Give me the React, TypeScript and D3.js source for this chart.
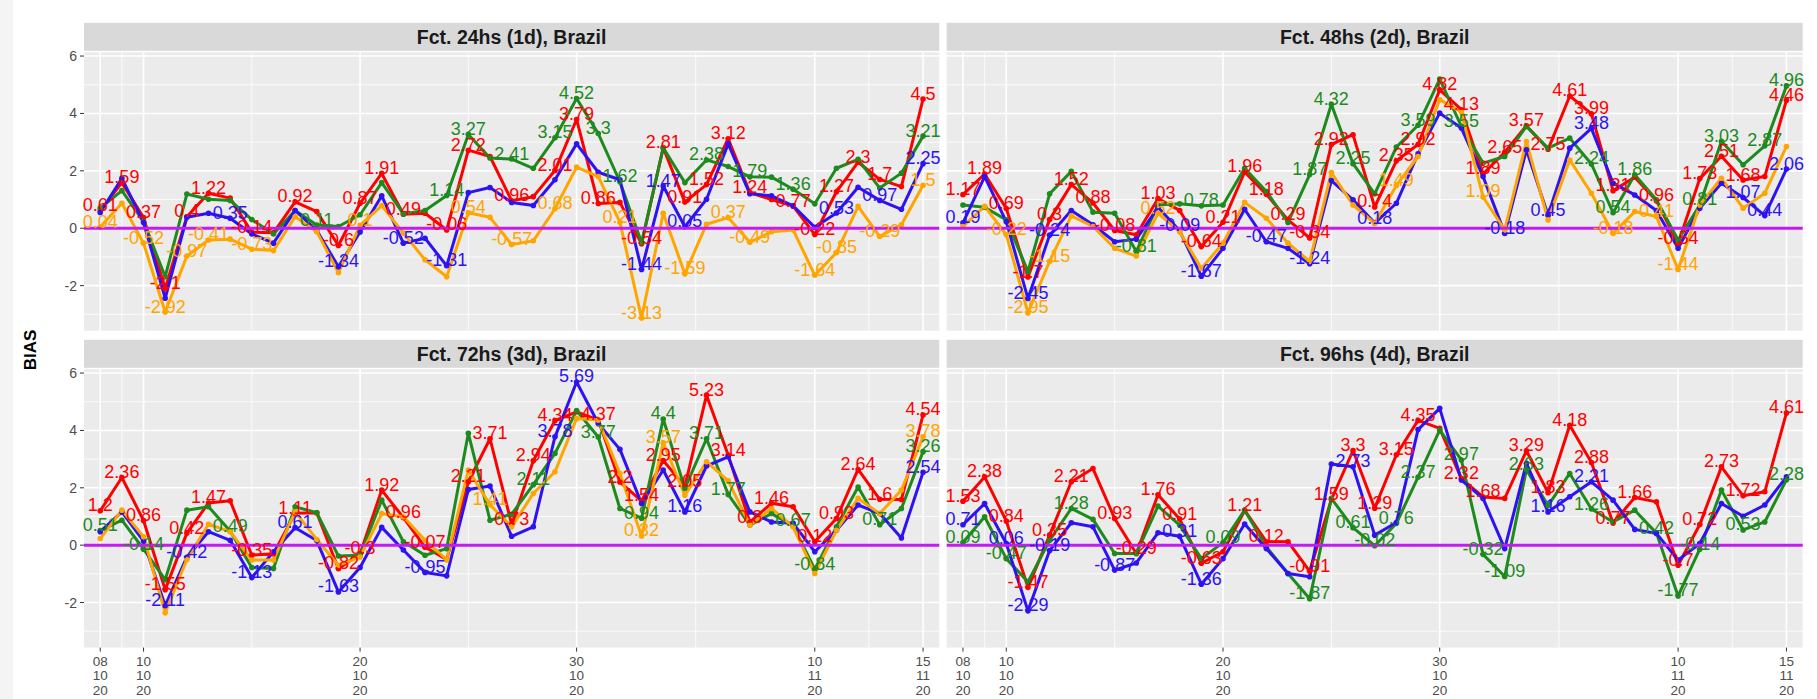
import React from "react";
import * as d3 from "d3";

// ---------- DATA ----------
const START = new Date(Date.UTC(2020, 9, 8));
const END = new Date(Date.UTC(2020, 10, 16));
const DAYS: Date[] = d3.utcDay.range(START, END); // 08/10/20 .. 15/11/20

const TITLES = [
  "Fct. 24hs (1d), Brazil",
  "Fct. 48hs (2d), Brazil",
  "Fct. 72hs (3d), Brazil",
  "Fct. 96hs (4d), Brazil",
];

const SERIES_NAMES = ["red", "green", "blue", "orange"];
const SERIES_COLORS = ["#FF0000", "#1E8A1E", "#2F12F2", "#FFA500"];

// Fct 24h
const P1_RED = [0.61, 1.59, 0.37, -2.1, 0.4, 1.22, 1.05, -0.14, -0.16, 0.92, 0.58, -0.6, 0.87, 1.91, 0.49, 0.52, -0.06, 2.72, 2.5, 0.96, 1.1, 2.01, 3.79, 0.86, 0.9, -0.54, 2.81, 0.91, 1.52, 3.12, 1.24, 1.0, 0.77, -0.22, 1.27, 2.3, 1.7, 1.45, 4.5];
const P1_GREEN = [0.7, 1.31, 0.23, -1.69, 1.19, 1.01, 0.97, 0.3, -0.2, 0.62, 0.11, 0.06, 0.47, 1.59, 0.5, 0.62, 1.14, 3.27, 2.45, 2.41, 2.09, 3.15, 4.52, 3.3, 1.62, -0.5, 2.8, 1.59, 2.38, 2.15, 1.79, 1.78, 1.36, 0.85, 2.09, 2.4, 1.4, 1.92, 3.21];
const P1_BLUE = [0.55, 1.74, 0.2, -2.44, 0.38, 0.52, 0.35, -0.2, -0.52, 0.62, -0.08, -1.34, -0.13, 1.13, -0.52, -0.35, -1.31, 1.24, 1.42, 0.9, 0.79, 1.69, 2.94, 1.95, 1.69, -1.44, 1.47, 0.05, 1.01, 2.94, 1.2, 1.13, 0.78, 0.03, 0.53, 1.43, 0.97, 0.66, 2.25];
const P1_ORANGE = [0.04, 0.87, -0.52, -2.92, -0.97, -0.41, -0.38, -0.73, -0.78, 0.4, -0.12, -1.55, 0.1, 0.79, -0.17, -1.1, -1.69, 0.54, 0.38, -0.57, -0.44, 0.68, 2.13, 1.8, 0.21, -3.13, 0.52, -1.59, 0.14, 0.37, -0.49, -0.12, -0.06, -1.64, -0.85, 0.76, -0.29, 0.12, 1.5];

// Fct 48h
const P2_RED = [1.17, 1.89, 0.69, -1.7, 0.3, 1.52, 0.88, -0.08, -0.23, 1.03, 0.62, -0.64, 0.21, 1.96, 1.18, 0.29, -0.34, 2.92, 3.26, 0.74, 2.35, 2.92, 4.82, 4.13, 1.89, 2.65, 3.57, 2.75, 4.61, 3.99, 1.31, 1.78, 0.96, -0.54, 1.73, 2.51, 1.68, 1.8, 4.46];
const P2_GREEN = [0.81, 0.73, 0.29, -1.51, 1.2, 1.98, 0.56, 0.52, -0.81, 0.81, 0.85, 0.78, 0.81, 2.09, 1.28, 0.2, 1.87, 4.32, 2.25, 1.2, 2.83, 3.59, 5.2, 3.55, 2.27, 2.5, 3.55, 2.79, 3.14, 2.24, 0.54, 1.86, 0.99, -0.41, 0.81, 3.03, 2.21, 2.87, 4.96];
const P2_BLUE = [0.19, 1.8, 0.23, -2.45, -0.24, 0.62, 0.12, -0.47, -0.38, 0.73, -0.09, -1.67, -0.7, 0.66, -0.47, -0.7, -1.24, 1.66, 0.99, 0.18, 0.87, 2.59, 4.01, 3.49, 1.8, -0.18, 2.73, 0.45, 2.79, 3.48, 1.57, 1.16, 0.62, -0.7, 0.7, 1.57, 1.07, 0.44, 2.06];
const P2_ORANGE = [0.06, 0.76, -0.22, -2.95, -1.15, 0.43, 0.06, -0.7, -0.97, 0.52, -0.12, -1.4, -0.52, 0.9, 0.35, -0.52, -1.16, 1.94, 0.81, 0.17, 1.49, 2.5, 4.48, 4.05, 1.09, -0.06, 3.02, 0.29, 2.38, 1.22, -0.18, 0.58, 0.41, -1.44, 0.81, 1.74, 0.7, 1.22, 2.85];

// Fct 72h
const P3_RED = [1.2, 2.36, 0.86, -1.55, 0.42, 1.47, 1.55, -0.35, -0.3, 1.11, 1.13, -0.82, -0.3, 1.92, 0.96, -0.07, -0.5, 2.21, 3.71, 0.73, 2.94, 4.34, 4.65, 4.37, 2.2, 1.54, 2.95, 2.05, 5.23, 3.14, 0.8, 1.46, 1.34, 0.12, 0.93, 2.64, 1.6, 1.59, 4.54];
const P3_GREEN = [0.51, 0.87, -0.14, -1.2, 1.22, 1.34, 0.49, -0.78, -0.81, 1.34, 1.13, -0.38, -0.35, 1.57, 0.12, -0.35, -0.12, 3.9, 0.87, 1.08, 2.11, 3.2, 4.69, 3.77, 1.28, 0.94, 4.4, 1.98, 3.71, 1.77, 0.7, 1.1, 0.67, -0.84, 0.64, 2.03, 0.71, 1.28, 3.26];
const P3_BLUE = [0.47, 1.16, 0.14, -2.11, -0.42, 0.47, 0.17, -1.13, -0.23, 0.61, 0.16, -1.63, -0.78, 0.62, -0.17, -0.95, -1.07, 1.94, 2.06, 0.31, 0.64, 3.78, 5.69, 4.24, 3.34, 1.45, 2.62, 1.16, 2.76, 3.08, 1.16, 0.81, 0.76, -0.23, 0.52, 1.4, 1.1, 0.25, 2.54];
const P3_ORANGE = [0.23, 1.22, 0.29, -2.36, -0.5, 0.73, 0.47, -0.52, -0.52, 1.16, 0.2, -0.7, -0.41, 1.1, 0.99, 0.17, -0.5, 2.62, 1.41, 0.64, 1.8, 2.56, 4.42, 4.36, 2.5, 0.32, 3.57, 1.74, 2.91, 2.24, 0.7, 1.28, 0.64, -0.99, 0.52, 1.63, 1.1, 1.92, 3.78];

// Fct 96h (no orange series)
const P4_RED = [1.53, 2.38, 0.84, -1.47, 0.35, 2.21, 2.67, 0.93, -0.29, 1.76, 0.91, -0.63, -0.23, 1.21, 0.12, 0.12, -0.91, 1.59, 3.3, 1.29, 3.15, 4.35, 4.07, 2.32, 1.68, 1.63, 3.29, 1.83, 4.18, 2.88, 0.77, 1.66, 1.51, -0.7, 0.72, 2.73, 1.72, 1.86, 4.61];
const P4_GREEN = [0.09, 0.99, -0.47, -1.28, 0.17, 1.28, 0.9, -0.29, -0.29, 1.36, 0.7, -0.47, 0.09, 1.22, -0.06, -0.99, -1.87, 1.63, 0.61, -0.02, 0.76, 2.37, 4.01, 2.97, -0.32, -1.09, 2.63, 1.38, 2.5, 1.26, 0.81, 1.22, 0.42, -1.77, -0.14, 1.92, 0.53, 0.81, 2.28];
const P4_BLUE = [0.71, 1.45, 0.06, -2.29, -0.19, 0.78, 0.64, -0.87, -0.62, 0.43, 0.31, -1.36, -0.47, 0.74, -0.12, -0.99, -1.1, 2.83, 2.73, 0.35, 0.79, 4.03, 4.77, 2.27, 1.63, -0.12, 2.85, 1.16, 1.69, 2.21, 1.57, 0.55, 0.41, -0.52, 0.06, 1.45, 1.01, 1.4, 2.38];

const PANEL_SERIES: (number[] | null)[][] = [
  [P1_RED, P1_GREEN, P1_BLUE, P1_ORANGE],
  [P2_RED, P2_GREEN, P2_BLUE, P2_ORANGE],
  [P3_RED, P3_GREEN, P3_BLUE, P3_ORANGE],
  [P4_RED, P4_GREEN, P4_BLUE, null],
];

const Y_MAJOR = [-2, 0, 2, 4, 6];
const Y_MINOR = [-3, -1, 1, 3, 5];
const X_MAJOR = [
  new Date(Date.UTC(2020, 9, 8)),
  new Date(Date.UTC(2020, 9, 10)),
  new Date(Date.UTC(2020, 9, 20)),
  new Date(Date.UTC(2020, 9, 30)),
  new Date(Date.UTC(2020, 10, 10)),
  new Date(Date.UTC(2020, 10, 15)),
];
const X_MINOR = [
  new Date(Date.UTC(2020, 9, 9)),
  new Date(Date.UTC(2020, 9, 15)),
  new Date(Date.UTC(2020, 9, 25)),
  new Date(Date.UTC(2020, 10, 4, 12)),
  new Date(Date.UTC(2020, 10, 12, 12)),
];
const Y_DOMAIN: [number, number] = [-3.571, 6.131];
const X_PAD_DAYS = 0.75;

// ---------- LAYOUT ----------
const W = 1817;
const H = 699;
const COLS = [
  { x0: 84, x1: 939.3 },
  { x0: 946.7, x1: 1802.7 },
];
const ROWS = [
  { y0: 52.3, y1: 330.7 },
  { y0: 369.3, y1: 647.6 },
];
const FONT = "'Liberation Sans', Arial, Helvetica, sans-serif";
const LABEL_FS = 18;
const LABEL_BOX_H = 13.8;

const fmt = (v: number) => String(+v.toFixed(2));
const charW = (c: string) => {
  if (c === ".") return 0.278;
  if (c === "-") return 0.333;
  return 0.556;
};
const textWidth = (s: string, fs: number) =>
  s.split("").reduce((a, c) => a + charW(c), 0) * fs;

function Panel({ idx }: { idx: number }) {
  const col = COLS[idx % 2];
  const row = ROWS[Math.floor(idx / 2)];
  const x = d3
    .scaleUtc()
    .domain([
      d3.utcHour.offset(START, -24 * X_PAD_DAYS),
      d3.utcHour.offset(DAYS[DAYS.length - 1], 24 * X_PAD_DAYS),
    ])
    .range([col.x0, col.x1]);
  const y = d3.scaleLinear().domain(Y_DOMAIN).range([row.y1, row.y0]);
  const series = PANEL_SERIES[idx];

  const line = d3
    .line<number>()
    .x((_, i) => x(DAYS[i]))
    .y((v) => y(v));

  // check_overlap style greedy label placement
  type Box = { l: number; r: number; t: number; b: number };
  const placed: Box[] = [];
  const labels: { x: number; y: number; s: string; color: string }[] = [];
  series.forEach((vals, si) => {
    if (!vals) return;
    vals.forEach((v, i) => {
      const s = fmt(v);
      const px = x(DAYS[i]);
      const base = y(v) + 0.5;
      const w = textWidth(s, LABEL_FS);
      const box = { l: px - w / 2, r: px + w / 2, t: base - LABEL_BOX_H, b: base };
      const hit = placed.some(
        (p) => box.l < p.r && box.r > p.l && box.t < p.b && box.b > p.t
      );
      if (!hit) {
        placed.push(box);
        labels.push({ x: px, y: base, s, color: SERIES_COLORS[si] });
      }
    });
  });

  const isBottom = idx >= 2;
  const isLeft = idx % 2 === 0;
  const stripTop = row.y0 - 29.5;
  const stripH = 28;

  return (
    <g>
      {/* strip */}
      <rect x={col.x0} y={stripTop} width={col.x1 - col.x0} height={stripH} fill="#D9D9D9" />
      <text
        x={(col.x0 + col.x1) / 2}
        y={stripTop + stripH / 2}
        textAnchor="middle"
        dominantBaseline="central"
        fontFamily={FONT}
        fontWeight="bold"
        fontSize={19.5}
        fill="#1A1A1A"
      >
        {TITLES[idx]}
      </text>
      {/* panel */}
      <rect x={col.x0} y={row.y0} width={col.x1 - col.x0} height={row.y1 - row.y0} fill="#EBEBEB" />
      {Y_MINOR.map((t) => (
        <line key={"ym" + t} x1={col.x0} x2={col.x1} y1={y(t)} y2={y(t)} stroke="#FFFFFF" strokeWidth={0.8} />
      ))}
      {X_MINOR.map((t, i) => (
        <line key={"xm" + i} x1={x(t)} x2={x(t)} y1={row.y0} y2={row.y1} stroke="#FFFFFF" strokeWidth={0.8} />
      ))}
      {Y_MAJOR.map((t) => (
        <line key={"yM" + t} x1={col.x0} x2={col.x1} y1={y(t)} y2={y(t)} stroke="#FFFFFF" strokeWidth={1.6} />
      ))}
      {X_MAJOR.map((t, i) => (
        <line key={"xM" + i} x1={x(t)} x2={x(t)} y1={row.y0} y2={row.y1} stroke="#FFFFFF" strokeWidth={1.6} />
      ))}
      {/* series lines */}
      {series.map((vals, si) =>
        vals ? (
          <path key={"l" + si} d={line(vals) || ""} fill="none" stroke={SERIES_COLORS[si]} strokeWidth={3} strokeLinejoin="round" />
        ) : null
      )}
      {series.map((vals, si) =>
        vals
          ? vals.map((v, i) => (
              <circle key={"p" + si + "-" + i} cx={x(DAYS[i])} cy={y(v)} r={2.8} fill={SERIES_COLORS[si]} />
            ))
          : null
      )}
      {/* zero line */}
      <line x1={col.x0} x2={col.x1} y1={y(0)} y2={y(0)} stroke="#C21CF2" strokeWidth={3} />
      {/* labels */}
      {labels.map((l, i) => (
        <text key={"t" + i} x={l.x} y={l.y} textAnchor="middle" fontFamily={FONT} fontSize={LABEL_FS} fill={l.color}>
          {l.s}
        </text>
      ))}
      {/* y axis */}
      {isLeft &&
        Y_MAJOR.map((t) => (
          <g key={"ya" + t}>
            <line x1={col.x0 - 4} x2={col.x0} y1={y(t)} y2={y(t)} stroke="#333333" strokeWidth={1} />
            <text
              x={col.x0 - 7}
              y={y(t)}
              textAnchor="end"
              dominantBaseline="central"
              fontFamily={FONT}
              fontSize={14}
              fill="#4D4D4D"
            >
              {t}
            </text>
          </g>
        ))}
      {/* x axis */}
      {isBottom &&
        X_MAJOR.map((t, i) => {
          const parts = [d3.utcFormat("%d")(t), d3.utcFormat("%m")(t), d3.utcFormat("%y")(t)];
          return (
            <g key={"xa" + i}>
              <line x1={x(t)} x2={x(t)} y1={row.y1} y2={row.y1 + 4} stroke="#333333" strokeWidth={1} />
              {parts.map((p, k) => (
                <text
                  key={k}
                  x={x(t)}
                  y={row.y1 + 14 + k * 14.3}
                  textAnchor="middle"
                  dominantBaseline="central"
                  fontFamily={FONT}
                  fontSize={13.5}
                  fill="#4D4D4D"
                >
                  {p}
                </text>
              ))}
            </g>
          );
        })}
    </g>
  );
}

export default function App() {
  return (
    <div style={{ position: "absolute", left: 0, top: 0, width: W, height: H, background: "#FFFFFF" }}>
      <svg width={W} height={H} viewBox={`0 0 ${W} ${H}`} style={{ display: "block" }}>
        <rect x={0} y={0} width={W} height={H} fill="#FFFFFF" />
        <rect x={0} y={0} width={13} height={H} fill="#F4F4F4" />
        {[0, 1, 2, 3].map((i) => (
          <Panel key={i} idx={i} />
        ))}
        <text
          transform={`translate(30, 350) rotate(-90)`}
          textAnchor="middle"
          dominantBaseline="central"
          fontFamily={FONT}
          fontWeight="bold"
          fontSize={17}
          fill="#000000"
        >
          BIAS
        </text>
      </svg>
    </div>
  );
}
